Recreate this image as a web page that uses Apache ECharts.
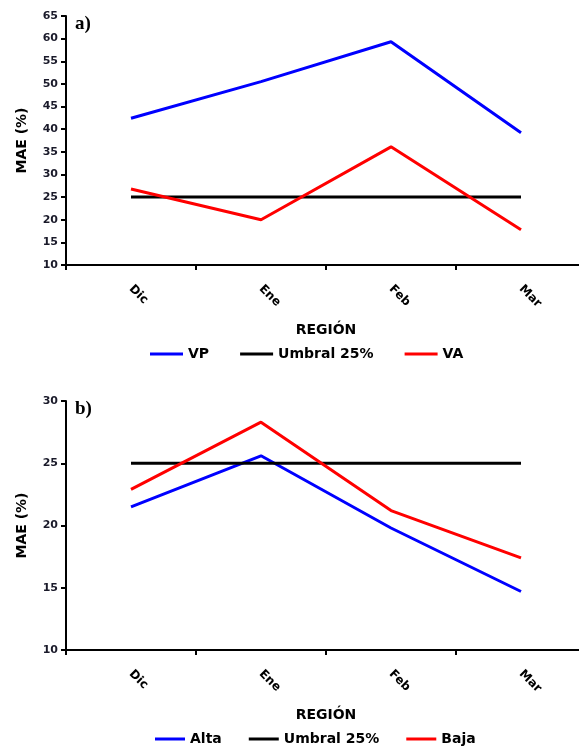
<!DOCTYPE html>
<html>
<head>
<meta charset="utf-8">
<script src="https://cdn.jsdelivr.net/npm/echarts@6/dist/echarts.min.js"></script>
<style>
html,body{margin:0;padding:0;background:#fff;}
#c{width:579px;height:747px;}
</style>
</head>
<body>
<div id="c"></div>
<script>
var categories = ['Dic', 'Ene', 'Feb', 'Mar'];
var vpValues = [42.4, 50.5, 59.3, 39.2];
var vaValues = [26.8, 20.0, 36.1, 17.8];
var umbralTop = [25, 25, 25, 25];
var altaValues = [21.5, 25.6, 19.8, 14.7];
var bajaValues = [22.9, 28.3, 21.2, 17.4];
var umbralBottom = [25, 25, 25, 25];

var FONT = 'DejaVu Sans';
var chart = echarts.init(document.getElementById('c'), null, {renderer: 'canvas'});

function xAx(gi) {
  return {
    type: 'category', gridIndex: gi, data: categories,
    name: 'REGIÓN', nameLocation: 'middle', nameGap: 58,
    nameTextStyle: {fontFamily: FONT, fontWeight: 'bold', fontSize: 14, color: '#000'},
    axisLine: {lineStyle: {color: '#000', width: 2}},
    axisTick: {show: true, length: 5, lineStyle: {color: '#000', width: 2}},
    axisLabel: {rotate: -45, margin: 22, fontFamily: FONT, fontWeight: 'bold', fontSize: 12, color: '#000'},
    splitLine: {show: false}
  };
}
function yAx(gi, max) {
  return {
    type: 'value', gridIndex: gi, min: 10, max: max, interval: 5,
    name: 'MAE (%)', nameLocation: 'middle', nameGap: 37,
    nameTextStyle: {fontFamily: FONT, fontWeight: 'bold', fontSize: 14, color: '#000'},
    axisLine: {show: true, lineStyle: {color: '#000', width: 2}},
    axisTick: {show: true, length: 5, lineStyle: {color: '#000', width: 2}},
    axisLabel: {margin: 8, fontFamily: FONT, fontWeight: 'bold', fontSize: 11, color: '#1a1a2a'},
    splitLine: {show: false}
  };
}
function ser(name, data, color, xi) {
  return {
    type: 'line', name: name, data: data, xAxisIndex: xi, yAxisIndex: xi,
    symbol: 'none', lineStyle: {color: color, width: 3}, itemStyle: {color: color},
    animation: false
  };
}
var legendText = {fontFamily: FONT, fontWeight: 'bold', fontSize: 14, color: '#000'};

chart.setOption({
  animation: false,
  grid: [
    {left: 66, top: 16, width: 520, height: 249, outerBoundsMode: 'none', containLabel: false},
    {left: 66, top: 401, width: 520, height: 249, outerBoundsMode: 'none', containLabel: false}
  ],
  xAxis: [xAx(0), xAx(1)],
  yAxis: [yAx(0, 65), yAx(1, 30)],
  legend: [
    {data: ['VP', 'Umbral 25%', 'VA'], left: 150, top: 347, padding: 0, icon: 'rect', itemWidth: 33, itemHeight: 3, itemGap: 31, textStyle: legendText, selectedMode: false},
    {data: ['Alta', 'Umbral 25%', 'Baja'], left: 155, top: 732, padding: 0, icon: 'rect', itemWidth: 30, itemHeight: 3, itemGap: 27, textStyle: legendText, selectedMode: false}
  ],
  graphic: [
    {type: 'text', left: 75, top: 15, style: {text: 'a)', font: 'bold 19px "Liberation Serif"', fill: '#000'}},
    {type: 'text', left: 75, top: 400, style: {text: 'b)', font: 'bold 19px "Liberation Serif"', fill: '#000'}}
  ],
  series: [
    ser('VP', vpValues, '#0000ff', 0),
    ser('Umbral 25%', umbralTop, '#000000', 0),
    ser('VA', vaValues, '#ff0000', 0),
    ser('Alta', altaValues, '#0000ff', 1),
    ser('Umbral 25%', umbralBottom, '#000000', 1),
    ser('Baja', bajaValues, '#ff0000', 1)
  ]
});
</script>
</body>
</html>
